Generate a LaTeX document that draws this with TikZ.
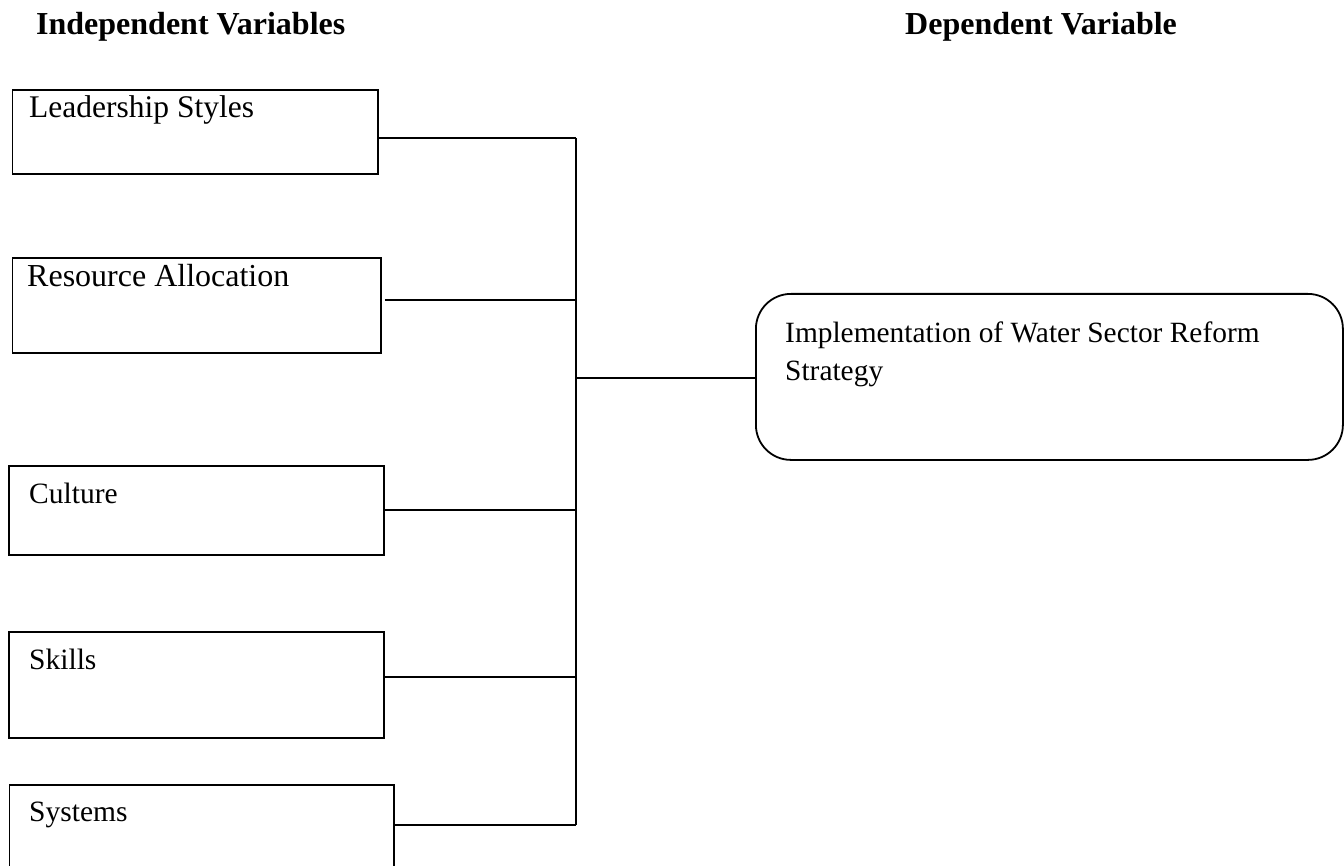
\documentclass[tikz,border=0pt]{standalone}
\usepackage{fontspec}
\setmainfont{Liberation Serif}
\usetikzlibrary{calc}
\begin{document}
\begin{tikzpicture}[x=1pt,y=-1pt,
  box/.style={draw, line width=1.8pt, anchor=north west, inner sep=0pt},
  lbl/.style={anchor=base west, inner sep=0pt, font=\fontsize{#1}{38}\selectfont},
  lbl/.default=29.5,
  head/.style={anchor=base west, inner sep=0pt, font=\fontsize{32}{38}\selectfont\bfseries},
  conn/.style={line width=1.5pt}]
\useasboundingbox (0,0) rectangle (1344,866);
\clip (0,0) rectangle (1344,866);
% headings
\node[head] (hind) at (36,35) {Independent Variables};
\node[head] (hdep) at (905,35) {Dependent Variable};
% independent boxes
\node[box, minimum width=365.5pt, minimum height=84pt] (lead) at (11.5,89) {};
\node[box, minimum width=368.5pt, minimum height=95pt] (res) at (11.5,257) {};
\node[box, minimum width=375pt, minimum height=89pt] (cul) at (8,465) {};
\node[box, minimum width=375pt, minimum height=106pt] (ski) at (8,631) {};
\node[box, minimum width=384.5pt, minimum height=100pt] (sys) at (8.5,784) {};
% labels
\node[lbl=31.5] (tlead) at ($(lead.north west)+(17.5,29)$) {Leadership Styles};
\node[lbl=32] (tres) at ($(res.north west)+(15.5,30)$) {Resource Allocation};
\node[lbl] (tcul) at ($(cul.north west)+(21,38)$) {Culture};
\node[lbl] (tski) at ($(ski.north west)+(21,38)$) {Skills};
\node[lbl] (tsys) at ($(sys.north west)+(20.5,37)$) {Systems};
% dependent box
\node[box, rounded corners=35pt, minimum width=587pt, minimum height=166pt] (dep) at (755,293) {};
\node[lbl=29.4, align=left, anchor=north west] (tdep) at ($(dep.north west)+(30,29)$) {Implementation of Water Sector Reform\\Strategy};
% connectors
\coordinate (ttop) at (576,138);
\coordinate (jr) at (576,300);
\coordinate (jd) at (576,378);
\coordinate (jc) at (576,510);
\coordinate (js) at (576,677);
\coordinate (tbot) at (576,825);
\draw[conn] (ttop) -- (tbot);
\draw[conn] (lead.east |- ttop) -- (ttop);
\draw[conn] ($(res.east |- jr)+(3,0)$) -- (jr);
\draw[conn] (cul.east |- jc) -- (jc);
\draw[conn] (ski.east |- js) -- (js);
\draw[conn] (sys.east |- tbot) -- (tbot);
\draw[conn] (jd) -- (dep.west |- jd);
\end{tikzpicture}
\end{document}
